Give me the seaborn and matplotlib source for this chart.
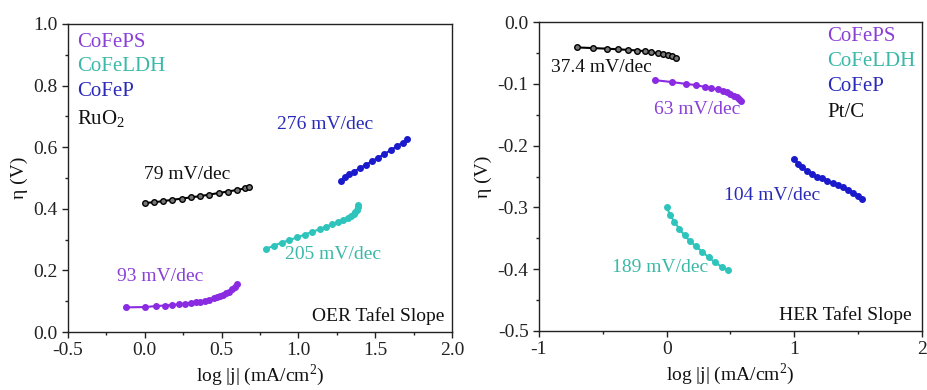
import numpy as np
import pandas as pd
import matplotlib
matplotlib.use("Agg")
import matplotlib.pyplot as plt
import seaborn as sns
from matplotlib.ticker import MultipleLocator

# ---------------- data ----------------
series_names = ["CoFePS", "CoFeLDH", "CoFeP"]

# OER panel
oer_ruo2_x = [0.0, 0.06, 0.12, 0.18, 0.24, 0.30, 0.36, 0.42, 0.48, 0.54, 0.60, 0.65, 0.68]
oer_ruo2_y = [0.419, 0.421, 0.425, 0.429, 0.433, 0.437, 0.441, 0.446, 0.451, 0.456, 0.461, 0.466, 0.470]
oer_cofeps_x = [-0.12, 0.0, 0.07, 0.13, 0.18, 0.22, 0.26, 0.30, 0.33, 0.36, 0.39, 0.42, 0.45,
                0.47, 0.49, 0.51, 0.53, 0.55, 0.57, 0.59, 0.60]
oer_cofeps_y = [0.080, 0.081, 0.084, 0.086, 0.088, 0.090, 0.092, 0.095, 0.097, 0.099, 0.102, 0.105,
                0.109, 0.112, 0.116, 0.120, 0.125, 0.131, 0.138, 0.147, 0.155]
oer_cofeldh_x = [0.79, 0.84, 0.89, 0.94, 0.99, 1.04, 1.09, 1.14, 1.18, 1.22, 1.26, 1.29, 1.32,
                 1.34, 1.36, 1.37, 1.38, 1.39, 1.39]
oer_cofeldh_y = [0.270, 0.280, 0.290, 0.298, 0.307, 0.316, 0.325, 0.334, 0.342, 0.350, 0.358,
                 0.364, 0.371, 0.377, 0.383, 0.390, 0.397, 0.405, 0.413]
oer_cofep_x = [1.28, 1.30, 1.33, 1.36, 1.40, 1.44, 1.48, 1.52, 1.56, 1.60, 1.64, 1.68, 1.71]
oer_cofep_y = [0.490, 0.503, 0.512, 0.520, 0.532, 0.543, 0.555, 0.566, 0.578, 0.590, 0.603, 0.615, 0.625]

# HER panel
her_ptc_x = [-0.70, -0.58, -0.47, -0.38, -0.30, -0.23, -0.17, -0.12, -0.07, -0.03, 0.01, 0.04, 0.07]
her_ptc_y = [-0.041, -0.042, -0.043, -0.044, -0.045, -0.046, -0.047, -0.049, -0.050, -0.052,
             -0.053, -0.055, -0.058]
her_cofeps_x = [-0.09, 0.04, 0.15, 0.23, 0.30, 0.35, 0.40, 0.44, 0.47, 0.50, 0.53, 0.55, 0.57, 0.58]
her_cofeps_y = [-0.094, -0.097, -0.100, -0.102, -0.105, -0.107, -0.109, -0.111, -0.113, -0.116,
                -0.119, -0.122, -0.125, -0.128]
her_cofeldh_x = [0.0, 0.03, 0.06, 0.10, 0.14, 0.18, 0.23, 0.28, 0.33, 0.38, 0.43, 0.48]
her_cofeldh_y = [-0.300, -0.313, -0.323, -0.335, -0.345, -0.354, -0.363, -0.372, -0.381, -0.389,
                 -0.396, -0.402]
her_cofep_x = [1.00, 1.03, 1.06, 1.10, 1.14, 1.18, 1.22, 1.26, 1.30, 1.34, 1.38, 1.42, 1.46, 1.50, 1.53]
her_cofep_y = [-0.222, -0.229, -0.235, -0.241, -0.246, -0.250, -0.253, -0.257, -0.260, -0.264,
               -0.267, -0.271, -0.276, -0.281, -0.286]

oer_slopes = ["93 mV/dec", "205 mV/dec", "276 mV/dec", "79 mV/dec"]
her_slopes = ["63 mV/dec", "189 mV/dec", "104 mV/dec", "37.4 mV/dec"]

# ---------------- style ----------------
sns.set_theme(style="ticks")
plt.rcParams["font.family"] = ["Liberation Serif", "DejaVu Serif"]
plt.rcParams["mathtext.fontset"] = "custom"
plt.rcParams["mathtext.rm"] = "Liberation Serif"

line_colors = {"CoFePS": "#8a2be2", "CoFeLDH": "#2ec4bc", "CoFeP": "#1a1acc",
               "RuO2": "#000000", "Pt/C": "#000000"}
text_colors = {"CoFePS": "#8a3fd6", "CoFeLDH": "#3ab8a8", "CoFeP": "#2a2ab8",
               "RuO2": "#111111", "Pt/C": "#111111"}


def make_df(parts):
    frames = []
    for name, xs, ys in parts:
        frames.append(pd.DataFrame({"x": xs, "y": ys, "s": name, "i": range(len(xs))}))
    return pd.concat(frames, ignore_index=True)


oer_df = make_df([("CoFePS", oer_cofeps_x, oer_cofeps_y),
                  ("CoFeLDH", oer_cofeldh_x, oer_cofeldh_y),
                  ("CoFeP", oer_cofep_x, oer_cofep_y),
                  ("RuO2", oer_ruo2_x, oer_ruo2_y)])
her_df = make_df([("CoFePS", her_cofeps_x, her_cofeps_y),
                  ("CoFeLDH", her_cofeldh_x, her_cofeldh_y),
                  ("CoFeP", her_cofep_x, her_cofep_y),
                  ("Pt/C", her_ptc_x, her_ptc_y)])

fig = plt.figure(figsize=(9.28, 3.9), dpi=100)
ax1 = fig.add_axes([0.0733, 0.1487, 0.4138, 0.790])
ax2 = fig.add_axes([0.5808, 0.1513, 0.4127, 0.792])

FS = 14
LFS = 15

for ax, df in [(ax1, oer_df), (ax2, her_df)]:
    for name, sub in df.groupby("s", sort=False):
        black = name in ("RuO2", "Pt/C")
        sns.lineplot(data=sub, x="x", y="y", sort=False, estimator=None, ax=ax,
                     color=line_colors[name], marker="o", markersize=4,
                     markeredgecolor=line_colors[name],
                     markerfacecolor="#777777" if black else line_colors[name],
                     markeredgewidth=1.0, linewidth=1.5, legend=False)

# ---- OER axes ----
ax1.set_xlim(-0.5, 2.0)
ax1.set_ylim(0.0, 1.0)
ax1.xaxis.set_major_locator(MultipleLocator(0.5))
ax1.xaxis.set_minor_locator(MultipleLocator(0.25))
ax1.yaxis.set_major_locator(MultipleLocator(0.2))
ax1.yaxis.set_minor_locator(MultipleLocator(0.1))
ax1.set_xticklabels([f"{v:.1f}" for v in ax1.get_xticks()])
ax1.set_yticklabels([f"{v:.1f}" for v in ax1.get_yticks()])

leg_y = [0.94, 0.862, 0.782]
for name, yy in zip(series_names, leg_y):
    ax1.text(-0.44, yy, name, color=text_colors[name], fontsize=LFS, va="center", ha="left")
ax1.text(-0.44, 0.69, r"RuO$_2$", color=text_colors["RuO2"], fontsize=LFS, va="center", ha="left")

ax1.text(-0.18, 0.18, oer_slopes[0], color=text_colors["CoFePS"], fontsize=FS, va="center", ha="left")
ax1.text(0.91, 0.25, oer_slopes[1], color=text_colors["CoFeLDH"], fontsize=FS, va="center", ha="left")
ax1.text(0.86, 0.675, oer_slopes[2], color=text_colors["CoFeP"], fontsize=FS, va="center", ha="left")
ax1.text(-0.005, 0.51, oer_slopes[3], color=text_colors["RuO2"], fontsize=FS, va="center", ha="left")
ax1.text(1.95, 0.052, "OER Tafel Slope", color="#111111", fontsize=FS, va="center", ha="right")

# ---- HER axes ----
ax2.set_xlim(-1, 2)
ax2.set_ylim(-0.5, 0.0)
ax2.xaxis.set_major_locator(MultipleLocator(1))
ax2.xaxis.set_minor_locator(MultipleLocator(0.5))
ax2.yaxis.set_major_locator(MultipleLocator(0.1))
ax2.yaxis.set_minor_locator(MultipleLocator(0.05))
ax2.set_xticklabels([f"{int(round(v))}" for v in ax2.get_xticks()])
ax2.set_yticklabels([f"{v:.1f}" if abs(v) > 1e-9 else "0.0" for v in ax2.get_yticks()])

leg_y2 = [-0.024, -0.063, -0.105]
for name, yy in zip(series_names, leg_y2):
    ax2.text(1.26, yy, name, color=text_colors[name], fontsize=LFS, va="center", ha="left")
ax2.text(1.26, -0.147, "Pt/C", color=text_colors["Pt/C"], fontsize=LFS, va="center", ha="left")

ax2.text(-0.10, -0.141, her_slopes[0], color=text_colors["CoFePS"], fontsize=FS, va="center", ha="left")
ax2.text(-0.43, -0.398, her_slopes[1], color=text_colors["CoFeLDH"], fontsize=FS, va="center", ha="left")
ax2.text(0.45, -0.28, her_slopes[2], color=text_colors["CoFeP"], fontsize=FS, va="center", ha="left")
ax2.text(-0.906, -0.073, her_slopes[3], color=text_colors["Pt/C"], fontsize=FS, va="center", ha="left")
ax2.text(1.92, -0.474, "HER Tafel Slope", color="#111111", fontsize=FS, va="center", ha="right")

for ax in (ax1, ax2):
    for sp in ax.spines.values():
        sp.set_visible(True)
        sp.set_color("#222222")
        sp.set_linewidth(1.0)
    ax.tick_params(axis="both", which="major", direction="out", length=4, width=1,
                   labelsize=FS, colors="#222222", top=False, right=False)
    ax.tick_params(axis="both", which="minor", direction="out", length=2.5, width=1,
                   top=False, right=False, colors="#222222")
    ax.set_xlabel(r"log |j| (mA/cm$^2$)", fontsize=FS, color="#111111", labelpad=2)
    ax.set_ylabel("η (V)", fontsize=FS, color="#111111", labelpad=4)

fig.savefig("out.png", dpi=100)
